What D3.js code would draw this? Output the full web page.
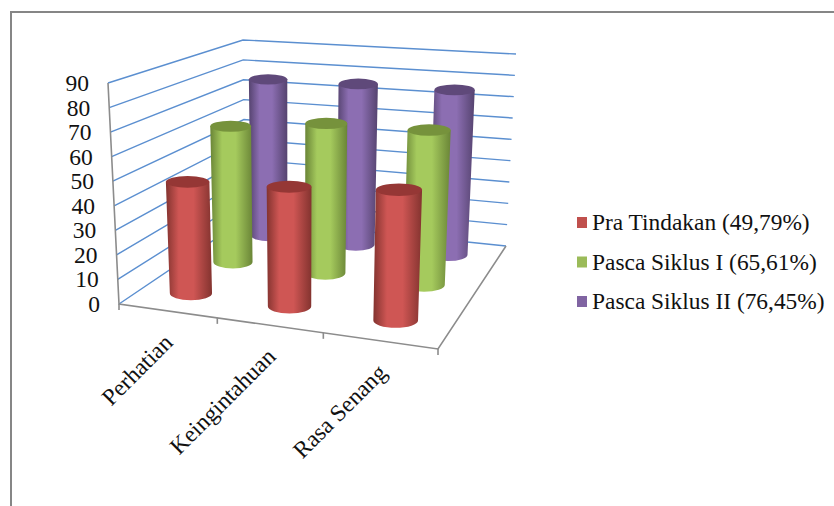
<!DOCTYPE html>
<html>
<head>
<meta charset="utf-8">
<script src="https://cdnjs.cloudflare.com/ajax/libs/d3/7.9.0/d3.min.js"></script>
<style>
  html, body { margin: 0; padding: 0; background: #fff; }
  svg { display: block; }
  text { font-family: "Liberation Serif", serif; fill: #111; }
</style>
</head>
<body>
<svg id="chart" width="834" height="506"></svg>
<script>
// Scores per aspect, one array per phase
const categories = ["Perhatian", "Keingintahuan", "Rasa Senang"];
const seriesNames = ["Pra Tindakan (49,79%)", "Pasca Siklus I (65,61%)", "Pasca Siklus II (76,45%)"];
const praTindakan = [46.5, 48.5, 51.5];
const pascaSiklus1 = [61, 65.5, 66];
const pascaSiklus2 = [75, 75.5, 75.5];
const seriesValues = [praTindakan, pascaSiklus1, pascaSiklus2];
const valueTicks = d3.range(0, 100, 10);

const colours = [
  { swatch: "#c0504d", edge: "#83332f", mid: "#cf5654", cap: "#953735" },
  { swatch: "#9bbb59", edge: "#6a8537", mid: "#a5ca5d", cap: "#76923c" },
  { swatch: "#8064a2", edge: "#55436f", mid: "#8c6eb2", cap: "#5f497a" }
];

const svg = d3.select("#chart");

// Perspective box: floor and ceiling quads in screen space, ordered
// front-left, front-right, back-right, back-left.
const floorQuad = [[119, 304], [438, 349], [506, 246], [245, 219]];
const ceilingQuad = [[108, 83], [447, 107], [516, 54], [243, 40]];

// Unit square to quad homography
function homography(q) {
  const [[x0, y0], [x1, y1], [x2, y2], [x3, y3]] = q;
  const dx1 = x1 - x2, dx2 = x3 - x2, sx = x0 - x1 + x2 - x3;
  const dy1 = y1 - y2, dy2 = y3 - y2, sy = y0 - y1 + y2 - y3;
  const det = dx1 * dy2 - dx2 * dy1;
  const g = (sx * dy2 - dx2 * sy) / det;
  const h = (dx1 * sy - sx * dy1) / det;
  const a = x1 - x0 + g * x1, b = x3 - x0 + h * x3;
  const d = y1 - y0 + g * y1, e = y3 - y0 + h * y3;
  return (u, v) => {
    const w = g * u + h * v + 1;
    return [(a * u + b * v + x0) / w, (d * u + e * v + y0) / w];
  };
}
const floorAt = homography(floorQuad);
const ceilingAt = homography(ceilingQuad);

const valueScale = d3.scaleLinear().domain([0, 90]).range([0, 1]);
const categoryScale = d3.scaleBand().domain(categories).range([0, 1]);
const seriesScale = d3.scaleBand().domain(seriesNames).range([0, 1]);

function project(u, v, value) {
  const a = floorAt(u, v), b = ceilingAt(u, v), t = valueScale(value);
  return [a[0] + (b[0] - a[0]) * t, a[1] + (b[1] - a[1]) * t];
}

// Outer frame, open on the right and at the bottom
svg.append("path")
  .attr("d", "M11,506V12H834")
  .attr("fill", "none").attr("stroke", "#868686").attr("stroke-width", 2);

// Wall gridlines
const gridLine = d3.line();
svg.append("g").selectAll("path").data(valueTicks).join("path")
  .attr("d", t => gridLine([project(0, 0, t), project(0, 1, t), project(1, 1, t)]))
  .attr("fill", "none").attr("stroke", "#5b8fd0").attr("stroke-width", 1.4);

// Floor edges and the value axis edge
const axisColour = "#8c8c8c";
svg.append("path")
  .attr("d", gridLine([project(0, 0, 90), project(0, 0, 0), project(1, 0, 0), project(1, 1, 0)]))
  .attr("fill", "none").attr("stroke", axisColour).attr("stroke-width", 1.6);

// Category ticks along the front edge
svg.append("g").selectAll("line").data(d3.range(0, 4)).join("line")
  .attr("x1", i => project(i / 3, 0, 0)[0])
  .attr("y1", i => project(i / 3, 0, 0)[1])
  .attr("x2", i => project(i / 3, 0, 0)[0])
  .attr("y2", i => project(i / 3, 0, 0)[1] + 6)
  .attr("stroke", axisColour).attr("stroke-width", 1.6);

// Value labels
svg.append("g").selectAll("text").data(valueTicks).join("text")
  .attr("x", t => project(0, 0, t)[0] - 19)
  .attr("y", t => project(0, 0, t)[1])
  .attr("dy", "0.34em")
  .attr("text-anchor", "end")
  .attr("font-size", 23.5)
  .text(t => t);

// Category labels, slanted up to the right
const labelEnds = [[174, 344], [277, 358], [388, 374]];
svg.append("g").selectAll("text").data(categories).join("text")
  .attr("transform", (c, i) => `translate(${labelEnds[i][0]},${labelEnds[i][1]}) rotate(-45)`)
  .attr("text-anchor", "end")
  .attr("font-size", 23.5)
  .text(c => c);

// Horizontal shading for the cylinder bodies
const defs = svg.append("defs");
colours.forEach((c, i) => {
  const g = defs.append("linearGradient").attr("id", "body" + i);
  g.append("stop").attr("offset", "0%").attr("stop-color", c.edge);
  g.append("stop").attr("offset", "28%").attr("stop-color", c.mid);
  g.append("stop").attr("offset", "60%").attr("stop-color", c.mid);
  g.append("stop").attr("offset", "100%").attr("stop-color", c.edge);
});

// Flatten to one record per cylinder, drawn from back row to front row
const cylinders = [];
seriesNames.forEach((name, s) => categories.forEach((cat, c) => {
  cylinders.push({ s, value: seriesValues[s][c],
    u: categoryScale(cat) + categoryScale.bandwidth() / 2,
    v: seriesScale(name) + seriesScale.bandwidth() / 2 });
}));
cylinders.sort((a, b) => b.s - a.s);

const worldRadius = 8.8;
svg.append("g").selectAll("g").data(cylinders).join("g").each(function (d) {
  const base = project(d.u, d.v, 0);
  const top = project(d.u, d.v, d.value);
  const full = project(d.u, d.v, 90);
  const pxPerUnit = Math.hypot(full[0] - base[0], full[1] - base[1]) / 90;
  const rb = worldRadius * pxPerUnit;
  const rt = rb * (1 + 0.06 * valueScale(d.value));
  const ryb = rb * 0.33, ryt = rt * 0.27;
  const g = d3.select(this);
  g.append("path")
    .attr("d", `M${top[0] - rt},${top[1]}L${base[0] - rb},${base[1]}` +
      `A${rb},${ryb} 0 0 0 ${base[0] + rb},${base[1]}` +
      `L${top[0] + rt},${top[1]}Z`)
    .attr("fill", `url(#body${d.s})`);
  g.append("ellipse")
    .attr("cx", top[0]).attr("cy", top[1]).attr("rx", rt).attr("ry", ryt)
    .attr("fill", colours[d.s].cap);
});

// Legend
const legend = svg.append("g").selectAll("g").data(seriesNames).join("g")
  .attr("transform", (n, i) => `translate(577,${223 + i * 39.5})`);
legend.append("rect")
  .attr("x", 0).attr("y", -6).attr("width", 10).attr("height", 11)
  .attr("fill", (n, i) => colours[i].swatch);
legend.append("text")
  .attr("x", 15).attr("dy", "0.3em")
  .attr("font-size", 23.4)
  .text(n => n);
</script>
</body>
</html>
